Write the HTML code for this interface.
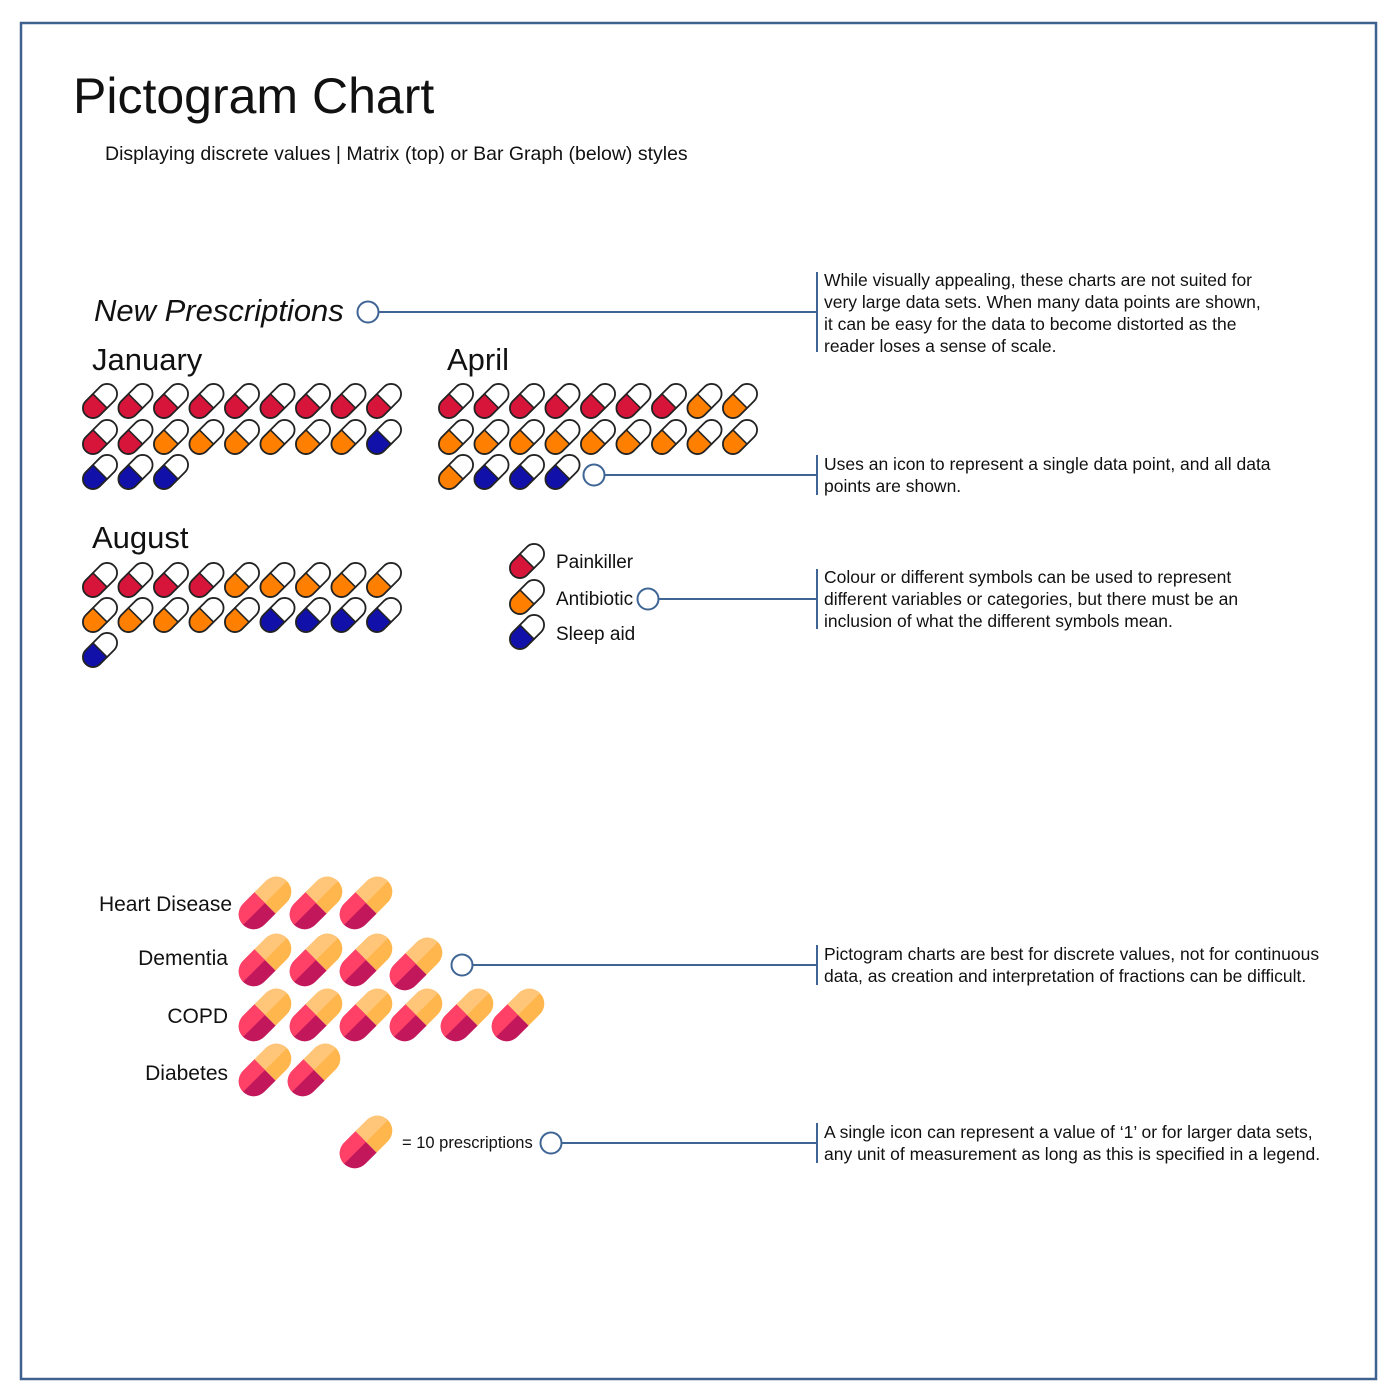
<!DOCTYPE html>
<html><head><meta charset="utf-8"><style>
html,body{margin:0;padding:0;background:#fff;}
svg{display:block;}
text{font-family:"Liberation Sans",sans-serif;fill:#111;}
</style></head><body>
<svg width="1400" height="1400" viewBox="0 0 1400 1400" xmlns="http://www.w3.org/2000/svg">
<defs>
  <clipPath id="cl"><rect x="-22" y="-12" width="22" height="24"/></clipPath>
  <g id="pr">
    <g transform="rotate(-45)">
      <rect x="-20" y="-10" width="40" height="20" rx="10" fill="#fff"/>
      <rect x="-20" y="-10" width="40" height="20" rx="10" fill="#d7143a" clip-path="url(#cl)"/>
      <line x1="0" y1="-10" x2="0" y2="10" stroke="#222" stroke-width="1.5"/>
      <rect x="-20" y="-10" width="40" height="20" rx="10" fill="none" stroke="#222" stroke-width="1.8"/>
    </g>
  </g>
  <g id="po">
    <g transform="rotate(-45)">
      <rect x="-20" y="-10" width="40" height="20" rx="10" fill="#fff"/>
      <rect x="-20" y="-10" width="40" height="20" rx="10" fill="#ff8000" clip-path="url(#cl)"/>
      <line x1="0" y1="-10" x2="0" y2="10" stroke="#222" stroke-width="1.5"/>
      <rect x="-20" y="-10" width="40" height="20" rx="10" fill="none" stroke="#222" stroke-width="1.8"/>
    </g>
  </g>
  <g id="pb">
    <g transform="rotate(-45)">
      <rect x="-20" y="-10" width="40" height="20" rx="10" fill="#fff"/>
      <rect x="-20" y="-10" width="40" height="20" rx="10" fill="#1111aa" clip-path="url(#cl)"/>
      <line x1="0" y1="-10" x2="0" y2="10" stroke="#222" stroke-width="1.5"/>
      <rect x="-20" y="-10" width="40" height="20" rx="10" fill="none" stroke="#222" stroke-width="1.8"/>
    </g>
  </g>
  <clipPath id="fa"><rect x="0" y="-16" width="34" height="32"/></clipPath>
  <clipPath id="fb"><rect x="-34" y="-16" width="34" height="32"/></clipPath>
  <clipPath id="fat"><rect x="-34" y="-16" width="68" height="16"/></clipPath>
  <g id="pf">
    <g transform="rotate(-45)">
      <g clip-path="url(#fa)">
        <rect x="-31" y="-15" width="62" height="30" rx="15" fill="#ffb74d"/>
        <g clip-path="url(#fat)"><rect x="-31" y="-15" width="62" height="30" rx="15" fill="#ffc578"/></g>
      </g>
      <g clip-path="url(#fb)">
        <rect x="-31" y="-15" width="62" height="30" rx="15" fill="#c2185b"/>
        <g clip-path="url(#fat)"><rect x="-31" y="-15" width="62" height="30" rx="15" fill="#ff4168"/></g>
      </g>
    </g>
  </g>
</defs>
<rect x="21" y="23" width="1355" height="1356" fill="none" stroke="#3f6190" stroke-width="2.5"/>
<text x="73" y="113" font-size="50">Pictogram Chart</text>
<text x="105" y="160" font-size="19.5">Displaying discrete values | Matrix (top) or Bar Graph (below) styles</text>

<text x="94" y="321" font-size="31" font-style="italic">New Prescriptions</text>
<text x="92" y="370" font-size="31">January</text>
<text x="447" y="370" font-size="31">April</text>
<text x="92" y="548" font-size="31">August</text>

<!-- January -->
<use href="#pr" x="100" y="401"/><use href="#pr" x="135.5" y="401"/><use href="#pr" x="171" y="401"/><use href="#pr" x="206.5" y="401"/><use href="#pr" x="242" y="401"/><use href="#pr" x="277.5" y="401"/><use href="#pr" x="313" y="401"/><use href="#pr" x="348.5" y="401"/><use href="#pr" x="384" y="401"/>
<use href="#pr" x="100" y="437"/><use href="#pr" x="135.5" y="437"/><use href="#po" x="171" y="437"/><use href="#po" x="206.5" y="437"/><use href="#po" x="242" y="437"/><use href="#po" x="277.5" y="437"/><use href="#po" x="313" y="437"/><use href="#po" x="348.5" y="437"/><use href="#pb" x="384" y="437"/>
<use href="#pb" x="100" y="472"/><use href="#pb" x="135.5" y="472"/><use href="#pb" x="171" y="472"/>

<!-- April -->
<use href="#pr" x="456" y="401"/><use href="#pr" x="491.5" y="401"/><use href="#pr" x="527" y="401"/><use href="#pr" x="562.5" y="401"/><use href="#pr" x="598" y="401"/><use href="#pr" x="633.5" y="401"/><use href="#pr" x="669" y="401"/><use href="#po" x="704.5" y="401"/><use href="#po" x="740" y="401"/>
<use href="#po" x="456" y="437"/><use href="#po" x="491.5" y="437"/><use href="#po" x="527" y="437"/><use href="#po" x="562.5" y="437"/><use href="#po" x="598" y="437"/><use href="#po" x="633.5" y="437"/><use href="#po" x="669" y="437"/><use href="#po" x="704.5" y="437"/><use href="#po" x="740" y="437"/>
<use href="#po" x="456" y="472"/><use href="#pb" x="491.5" y="472"/><use href="#pb" x="527" y="472"/><use href="#pb" x="562.5" y="472"/>

<!-- August -->
<use href="#pr" x="100" y="580"/><use href="#pr" x="135.5" y="580"/><use href="#pr" x="171" y="580"/><use href="#pr" x="206.5" y="580"/><use href="#po" x="242" y="580"/><use href="#po" x="277.5" y="580"/><use href="#po" x="313" y="580"/><use href="#po" x="348.5" y="580"/><use href="#po" x="384" y="580"/>
<use href="#po" x="100" y="615"/><use href="#po" x="135.5" y="615"/><use href="#po" x="171" y="615"/><use href="#po" x="206.5" y="615"/><use href="#po" x="242" y="615"/><use href="#pb" x="277.5" y="615"/><use href="#pb" x="313" y="615"/><use href="#pb" x="348.5" y="615"/><use href="#pb" x="384" y="615"/>
<use href="#pb" x="100" y="650"/>

<!-- Legend -->
<use href="#pr" x="527" y="561"/><use href="#po" x="527" y="597"/><use href="#pb" x="527" y="632"/>
<text x="556" y="568" font-size="19">Painkiller</text>
<text x="556" y="605" font-size="19">Antibiotic</text>
<text x="556" y="640" font-size="19">Sleep aid</text>

<!-- Flat pills -->
<text x="232" y="911" font-size="21" text-anchor="end">Heart Disease</text>
<text x="228" y="965" font-size="21" text-anchor="end">Dementia</text>
<text x="228" y="1023" font-size="21" text-anchor="end">COPD</text>
<text x="228" y="1080" font-size="21" text-anchor="end">Diabetes</text>
<use href="#pf" x="265" y="903"/><use href="#pf" x="316" y="903"/><use href="#pf" x="366" y="903"/>
<use href="#pf" x="265" y="960"/><use href="#pf" x="316" y="960"/><use href="#pf" x="366" y="960"/><use href="#pf" x="416" y="964"/>
<use href="#pf" x="265" y="1015"/><use href="#pf" x="316" y="1015"/><use href="#pf" x="366" y="1015"/><use href="#pf" x="416" y="1015"/><use href="#pf" x="467" y="1015"/><use href="#pf" x="518" y="1015"/>
<use href="#pf" x="265" y="1070"/><use href="#pf" x="314" y="1070"/>
<use href="#pf" x="366" y="1142"/>
<text x="402" y="1148" font-size="16.5">= 10 prescriptions</text>

<!-- Connectors -->
<g stroke="#3f6595" stroke-width="2" fill="none">
  <circle cx="368" cy="312" r="10.5"/><line x1="379" y1="312" x2="817" y2="312"/><line x1="817" y1="272" x2="817" y2="352"/>
  <circle cx="594" cy="475" r="10.5"/><line x1="605" y1="475" x2="817" y2="475"/><line x1="817" y1="455" x2="817" y2="495"/>
  <circle cx="648" cy="599" r="10.5"/><line x1="659" y1="599" x2="817" y2="599"/><line x1="817" y1="569" x2="817" y2="629"/>
  <circle cx="462" cy="965" r="10.5"/><line x1="473" y1="965" x2="817" y2="965"/><line x1="817" y1="945" x2="817" y2="985"/>
  <circle cx="551" cy="1143" r="10.5"/><line x1="562" y1="1143" x2="817" y2="1143"/><line x1="817" y1="1123" x2="817" y2="1163"/>
</g>
<g font-size="17.5">
  <text x="824" y="286">While visually appealing, these charts are not suited for</text>
  <text x="824" y="308">very large data sets. When many data points are shown,</text>
  <text x="824" y="330">it can be easy for the data to become distorted as the</text>
  <text x="824" y="352">reader loses a sense of scale.</text>
  <text x="824" y="470">Uses an icon to represent a single data point, and all data</text>
  <text x="824" y="492">points are shown.</text>
  <text x="824" y="583">Colour or different symbols can be used to represent</text>
  <text x="824" y="605">different variables or categories, but there must be an</text>
  <text x="824" y="627">inclusion of what the different symbols mean.</text>
  <text x="824" y="960">Pictogram charts are best for discrete values, not for continuous</text>
  <text x="824" y="982">data, as creation and interpretation of fractions can be difficult.</text>
  <text x="824" y="1138">A single icon can represent a value of ‘1’ or for larger data sets,</text>
  <text x="824" y="1160">any unit of measurement as long as this is specified in a legend.</text>
</g>
</svg>
</body></html>
